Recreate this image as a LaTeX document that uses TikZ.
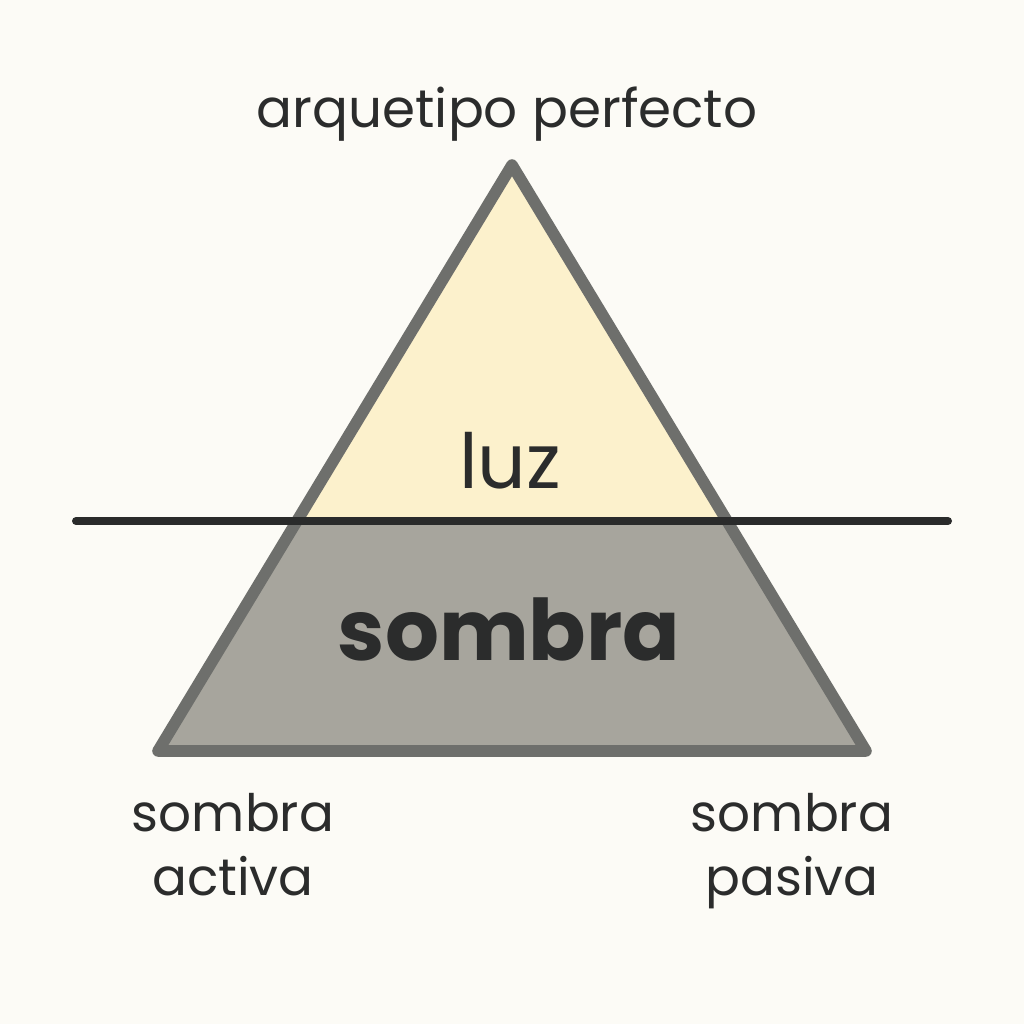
\documentclass[tikz,border=0pt]{standalone}
\usepackage{fontspec}
\setmainfont{Poppins}
\definecolor{bgc}{HTML}{FCFBF6}
\definecolor{lightc}{HTML}{FCF1CC}
\definecolor{shadec}{HTML}{A7A59D}
\definecolor{edgec}{HTML}{6E6F6C}
\definecolor{linec}{HTML}{2A2B2B}
\definecolor{textc}{HTML}{2B2C2C}
\tikzset{
  lbl/.style={text=textc, anchor=base, inner sep=0pt},
  edge/.style={draw=edgec, line width=5.8pt, line join=round},
  divider/.style={draw=linec, line width=4pt, line cap=round}
}
\begin{document}
\begin{tikzpicture}[x=0.5pt,y=-0.5pt]
\fill[bgc] (0,0) rectangle (1024,1024);
\useasboundingbox (0,0) rectangle (1024,1024);
\coordinate (apex) at (512,165);
\coordinate (bl) at (158,751);
\coordinate (br) at (866,751);
\begin{scope}
\clip (0,0) rectangle (1024,521);
\fill[lightc] (apex) -- (bl) -- (br) -- cycle;
\end{scope}
\begin{scope}
\clip (0,521) rectangle (1024,1024);
\fill[shadec] (apex) -- (bl) -- (br) -- cycle;
\end{scope}
\draw[edge] (apex) -- (bl) -- (br) -- cycle;
\coordinate (dl) at (76,521);
\coordinate (dr) at (948,521);
\draw[divider] (dl) -- (dr);
\node[lbl, font=\fontsize{26.6}{30}\selectfont] (top) at (507,127) {arquetipo perfecto};
\node[lbl, font=\fontsize{38}{44}\selectfont] (luz) at (510,488) {luz};
\node[lbl, font=\fontsize{42.4}{50}\selectfont\bfseries] (sombra) at (509,660) {sombra};
\node[lbl, font=\fontsize{25.8}{30}\selectfont] (sa1) at (233,831) {sombra};
\node[lbl, font=\fontsize{25.8}{30}\selectfont] (sa2) at (233,895) {activa};
\node[lbl, font=\fontsize{25.8}{30}\selectfont] (sp1) at (792,831) {sombra};
\node[lbl, font=\fontsize{25.8}{30}\selectfont] (sp2) at (792,895) {pasiva};
\end{tikzpicture}
\end{document}
